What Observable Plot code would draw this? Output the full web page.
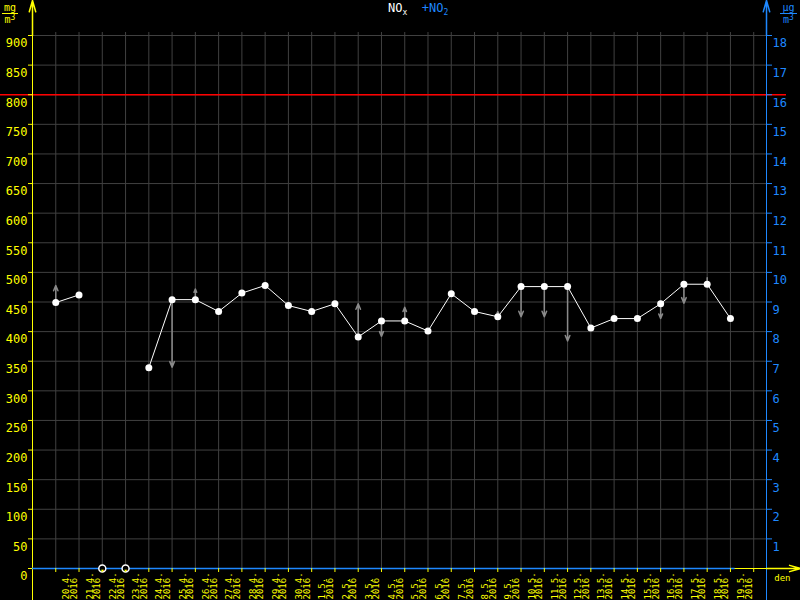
<!DOCTYPE html>
<html><head><meta charset="utf-8">
<script src="https://cdn.jsdelivr.net/npm/d3@7"></script>
<script src="https://cdn.jsdelivr.net/npm/@observablehq/plot@0.6"></script>
<style>
html,body{margin:0;padding:0;background:#000;}
#wrap{position:relative;width:800px;height:600px;overflow:hidden;background:#000;}
#wrap svg{display:block;}
.title{position:absolute;top:0px;left:388px;font:12px "DejaVu Sans Mono",monospace;white-space:nowrap;line-height:16px;}
.title sub{font-size:8px;vertical-align:-3px;line-height:0;}
.unit{position:absolute;top:3px;font:10px "DejaVu Sans Mono",monospace;text-align:center;line-height:10px;}
.unit .den{border-top:1px solid currentColor;padding-top:1px;}
.unit sup{font-size:8px;vertical-align:3px;line-height:0;}
</style></head><body><div id="wrap">
<div class="title"><span style="color:#fff">NO<sub>x</sub></span>&nbsp;&nbsp;<span style="color:#1e88ff">+NO<sub>2</sub></span></div>
<div class="unit" style="left:2px;width:16px;color:#ffff00"><div>mg</div><div class="den">m<sup>3</sup></div></div>
<div class="unit" style="left:780px;width:17px;color:#1e88ff"><div>μg</div><div class="den">m<sup>3</sup></div></div>
</div>
<script>
const YELLOW = "#ffff00", BLUE = "#1e88ff", GRID = "#404040", GREY = "#8a8a8a";

const dateLabels = ["20.4.","21.4.","22.4.","23.4.","24.4.","25.4.","26.4.","27.4.","28.4.","29.4.","30.4.",
  "1.5.","2.5.","3.5.","4.5.","5.5.","6.5.","7.5.","8.5.","9.5.","10.5.","11.5.","12.5.","13.5.","14.5.",
  "15.5.","16.5.","17.5.","18.5.","19.5."];
const yearLabel = "2016";
const noxValues = [449, 462, null, null, 339, 454, 454, 434, 465, 478, 444, 434, 447, 391, 418, 418, 401,
  464, 434, 425, 476, 476, 476, 406, 422, 422, 447, 480, 480, 422];
const missingDays = [2, 3];
const arrowDays = [0, 5, 6, 13, 14, 15, 19, 20, 21, 22, 26, 27, 28];
const arrowFrom = [449, 454, 454, 391, 418, 418, 425, 476, 476, 476, 447, 480, 491];
const arrowTo   = [478, 340, 472, 447, 392, 441, 434, 425, 425, 384, 422, 448, 481];
const limitValues = [800];
const leftTicks = [0,50,100,150,200,250,300,350,400,450,500,550,600,650,700,750,800,850,900];
const rightTickLabels = [1,2,3,4,5,6,7,8,9,10,11,12,13,14,15,16,17,18];
const rightFactor = 50;
const no2ZeroSpan = [-1, 29.2];
const xTickDays = d3.range(0, 31);

const W = 800, H = 600, mT = 35, mB = 32, mL = 32, mR = 34;
const xDomain = [-1, 30.55], yDomain = [0, 900];
const pxPerDay = (W - mL - mR) / (xDomain[1] - xDomain[0]);
const pxPerUnit = (H - mT - mB) / (yDomain[1] - yDomain[0]);
const xEdge = xDomain[1] + mR / pxPerDay;
const yEdge = yDomain[1] + mT / pxPerUnit;

const chart = Plot.plot({
  width: W, height: H,
  marginTop: mT, marginBottom: mB, marginLeft: mL, marginRight: mR,
  style: {background: "#000", color: YELLOW, fontFamily: "DejaVu Sans Mono, monospace", fontSize: "12px"},
  x: {type: "linear", domain: xDomain},
  y: {type: "linear", domain: yDomain},
  marks: [
    Plot.gridY(leftTicks.filter(v => v > 0), {stroke: GRID, strokeOpacity: 1}),
    Plot.gridX(xTickDays, {stroke: GRID, strokeOpacity: 1, insetTop: -3}),
    Plot.ruleY(limitValues, {stroke: "#ff0000", strokeWidth: 1.5, insetLeft: -mL, insetRight: -20}),
    Plot.ruleX([xDomain[0]], {stroke: YELLOW, insetTop: -mT, insetBottom: -mB}),
    Plot.ruleX([xDomain[1]], {stroke: BLUE, insetTop: -mT, insetBottom: -mB}),
    Plot.ruleY([0], {stroke: YELLOW, insetRight: -mR}),
    Plot.ruleY([0], {x1: no2ZeroSpan[0], x2: no2ZeroSpan[1], stroke: BLUE, strokeWidth: 1.5}),
    Plot.arrow([0], {x: xDomain[0], y1: yDomain[1], y2: yEdge, stroke: YELLOW, headLength: 15, headAngle: 32}),
    Plot.arrow([0], {x: xDomain[1], y1: yDomain[1], y2: yEdge, stroke: BLUE, headLength: 15, headAngle: 32}),
    Plot.arrow([0], {y: 0, x1: xDomain[1], x2: xEdge, stroke: YELLOW, headLength: 15, headAngle: 32}),
    Plot.axisY({ticks: leftTicks, tickSize: 4, fill: "none", stroke: YELLOW, label: null}),
    Plot.axisY({ticks: leftTicks, tickSize: 0, tickPadding: 5, dy: 8, fill: YELLOW, label: null, fontSize: 12}),
    Plot.axisY({anchor: "right", ticks: rightTickLabels.map(v => v * rightFactor), tickSize: 5, fill: "none", stroke: BLUE, label: null}),
    Plot.axisY({anchor: "right", ticks: rightTickLabels.map(v => v * rightFactor), tickFormat: d => d / rightFactor,
      tickSize: 0, tickPadding: 6, dy: 8, fill: BLUE, label: null, fontSize: 12}),
    Plot.axisX({ticks: xTickDays, tickSize: 4, fill: "none", stroke: YELLOW, label: null}),
    Plot.text(dateLabels, {x: (d, i) => i, y: 0, text: d => d + "\n" + yearLabel, rotate: -90,
      textAnchor: "start", lineHeight: 0.85, dx: 15, dy: 31, fill: YELLOW, fontSize: 9}),
    Plot.text(["den"], {frameAnchor: "bottom-right", dx: 24, dy: 12, fill: YELLOW, fontSize: 9}),
    Plot.arrow(arrowDays, {x: d => d, y1: (d, i) => arrowFrom[i], y2: (d, i) => arrowTo[i],
      stroke: GREY, headLength: 6, headAngle: 45}),
    Plot.line(noxValues, {x: (d, i) => i, y: d => d, stroke: "#fff", strokeWidth: 1}),
    Plot.dot(noxValues, {x: (d, i) => i, y: d => d, filter: d => d != null, r: 3.5, fill: "#fff"}),
    Plot.dot(missingDays, {x: d => d, y: 0, r: 3.5, stroke: "#fff", fill: "#000"}),
    Plot.text(missingDays, {x: d => d, y: 0, text: () => "▾", fill: YELLOW, fontSize: 7, dy: 2})
  ]
});
document.getElementById("wrap").prepend(chart);
</script>
</body></html>
